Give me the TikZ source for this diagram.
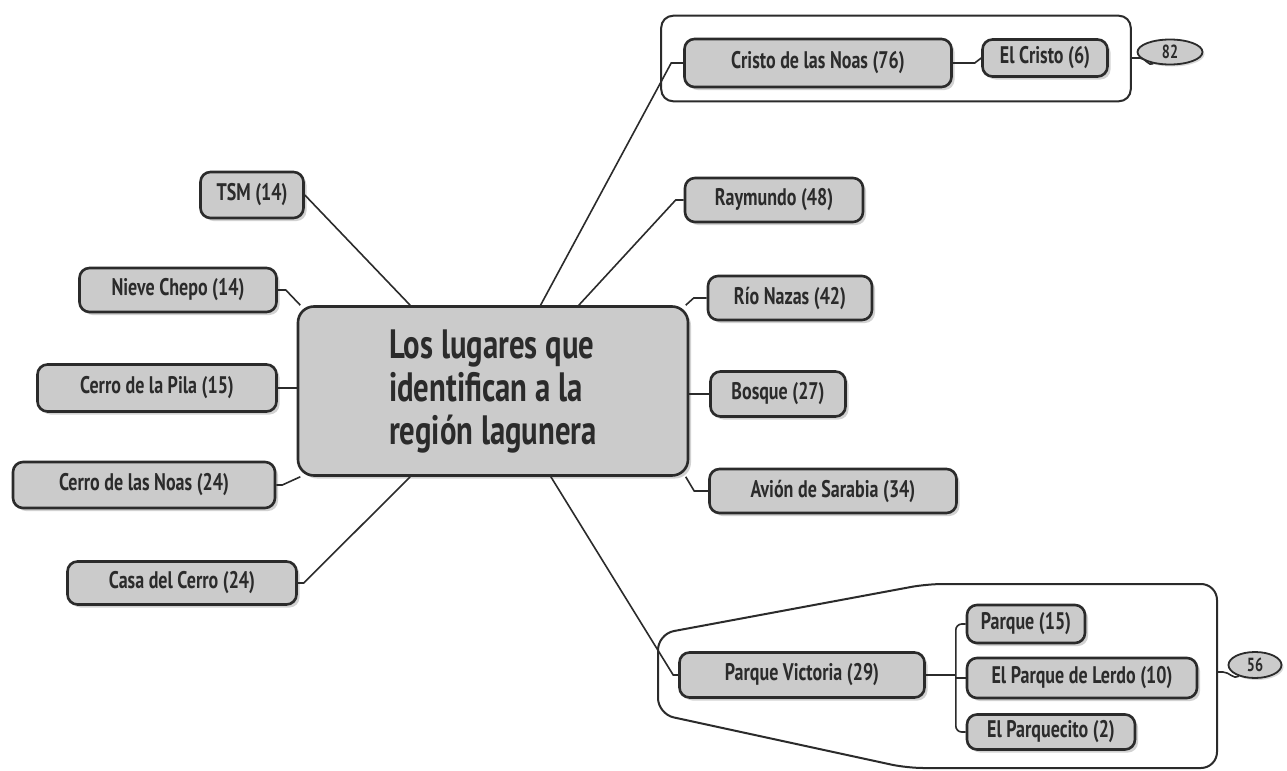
\documentclass[tikz,border=0pt]{standalone}
\usepackage{fontspec}
\setmainfont{PT Sans}[FakeStretch=0.75]
\usetikzlibrary{shadows,fit,shapes.geometric}
\definecolor{tinta}{HTML}{2B2B2B}
\definecolor{relleno}{HTML}{CBCBCB}
\begin{document}
\begin{tikzpicture}[x=0.5pt,y=-0.5pt,
    lugar/.style={draw=tinta,line width=1.3pt,fill=relleno,rounded corners=5pt,
        minimum height=22pt,inner sep=0pt,text=tinta,
        font=\fontsize{12}{14}\selectfont\bfseries,
        drop shadow={opacity=0.35,shadow xshift=1.5pt,shadow yshift=-1.5pt}},
    rama/.style={draw=tinta,line width=0.8pt},
    grupo/.style={draw=tinta,line width=1pt,rounded corners=6pt},
    cifra/.style={draw=tinta,line width=0.9pt,fill=relleno,ellipse,inner sep=0pt,
        text=tinta,font=\fontsize{9.5}{11}\selectfont\bfseries,
        drop shadow={opacity=0.3,shadow xshift=1pt,shadow yshift=-1pt}}]
    \fill[white] (0,0) rectangle (1287,771);
    \useasboundingbox (0,0) rectangle (1287,771);

    % Centro %
    \node[lugar,rounded corners=8pt,minimum width=195pt,minimum height=84.5pt,align=left,
        font=\fontsize{20.5}{21.5}\selectfont\bfseries] (lugares) at (493,391)
        {Los lugares que\\identifican a la\\región lagunera};

    % Izquierda %
    \node[lugar,minimum width=51.5pt,minimum height=23pt] (tsm) at (252,195) {TSM (14)};
    \node[lugar,minimum width=98.5pt] (nieve) at (178,290) {Nieve Chepo (14)};
    \node[lugar,minimum width=119.5pt,minimum height=23.5pt] (pila) at (157,388) {Cerro de la Pila (15)};
    \node[lugar,minimum width=131pt,minimum height=23pt] (cnoas) at (144,485) {Cerro de las Noas (24)};
    \node[lugar,minimum width=114.5pt,minimum height=21.5pt] (casa) at (182,583) {Casa del Cerro (24)};

    \draw[rama] (tsm.east) -- (lugares.134);
    \draw[rama] (nieve.east) -- ++(8,0) -- (lugares.156);
    \draw[rama] (pila.east) -- (pila.east -| lugares.west);
    \draw[rama] (cnoas.east) -- ++(6,0) -- (lugares.204);
    \draw[rama] (casa.east) -- ++(6,0) -- (lugares.226);

    % Derecha %
    \node[lugar,minimum width=133.5pt,minimum height=24pt] (cristo) at (818,63) {Cristo de las Noas (76)};
    \node[lugar,minimum width=62.5pt,minimum height=18.5pt] (elcristo) at (1045,58) {El Cristo (6)};
    \node[lugar,minimum width=89pt] (raymundo) at (774,200) {Raymundo (48)};
    \node[lugar,minimum width=82pt] (rionazas) at (790,298) {Río Nazas (42)};
    \node[lugar,minimum width=67.5pt,minimum height=22.5pt] (bosque) at (778,394) {Bosque (27)};
    \node[lugar,minimum width=123.5pt] (avion) at (833,491) {Avión de Sarabia (34)};
    \node[lugar,minimum width=122.5pt,minimum height=22.5pt] (pvictoria) at (802,675) {Parque Victoria (29)};
    \node[lugar,minimum width=59pt,minimum height=19pt] (parque) at (1026,624) {Parque (15)};
    \node[lugar,minimum width=115pt,minimum height=20pt] (lerdo) at (1082,678) {El Parque de Lerdo (10)};
    \node[lugar,minimum width=84pt,minimum height=17.5pt] (parquecito) at (1051,732) {El Parquecito (2)};

    \draw[rama] (cristo.west) -- ++(-12,0) -- (lugares.61);
    \draw[rama] (raymundo.west) -- ++(-8,0) -- (lugares.45);
    \draw[rama] (rionazas.west) -- ++(-13,0) -- (lugares.24);
    \draw[rama] (bosque.west) -- (bosque.west -| lugares.east);
    \draw[rama] (avion.west) -- ++(-14,0) -- (lugares.-24);
    \draw[rama] (pvictoria.west) -- ++(-5,0) -- (lugares.-56);
    \draw[rama] (cristo.east) -- ++(22,0) -- (elcristo.west);
    \draw[rama] (pvictoria.east) -- ++(30,0) coordinate (pvbar);
    \draw[rama,rounded corners=3pt] (parque.west) -- (parque.west -| pvbar) -- (parquecito.west -| pvbar) -- (parquecito.west);
    \draw[rama] (lerdo.west) -- (lerdo.west -| pvbar);

    % Grupos %
    \node[grupo,fit=(cristo)(elcristo),inner xsep=11pt,inner ysep=8.75pt,yshift=2.25pt] (grupo1) {};
    \draw[grupo,rounded corners=8pt] (927,584) -- (1217,584) -- (1217,768) -- (907,768)
        -- (658,714) -- (658,634) -- cycle;
    \coordinate (grupo2) at (1217,672);

    \node[cifra,minimum width=32.5pt,minimum height=12.5pt] (b82) at (1170,52) {82};
    \node[cifra,minimum width=26.5pt,minimum height=13pt] (b56) at (1255,665) {56};
    \draw[rama] (grupo1.east |- 0,58) -- ++(8,0) to[out=0,in=215] (b82.215);
    \draw[rama] (grupo2) -- ++(6,0) to[out=0,in=215] (b56.215);
\end{tikzpicture}
\end{document}
